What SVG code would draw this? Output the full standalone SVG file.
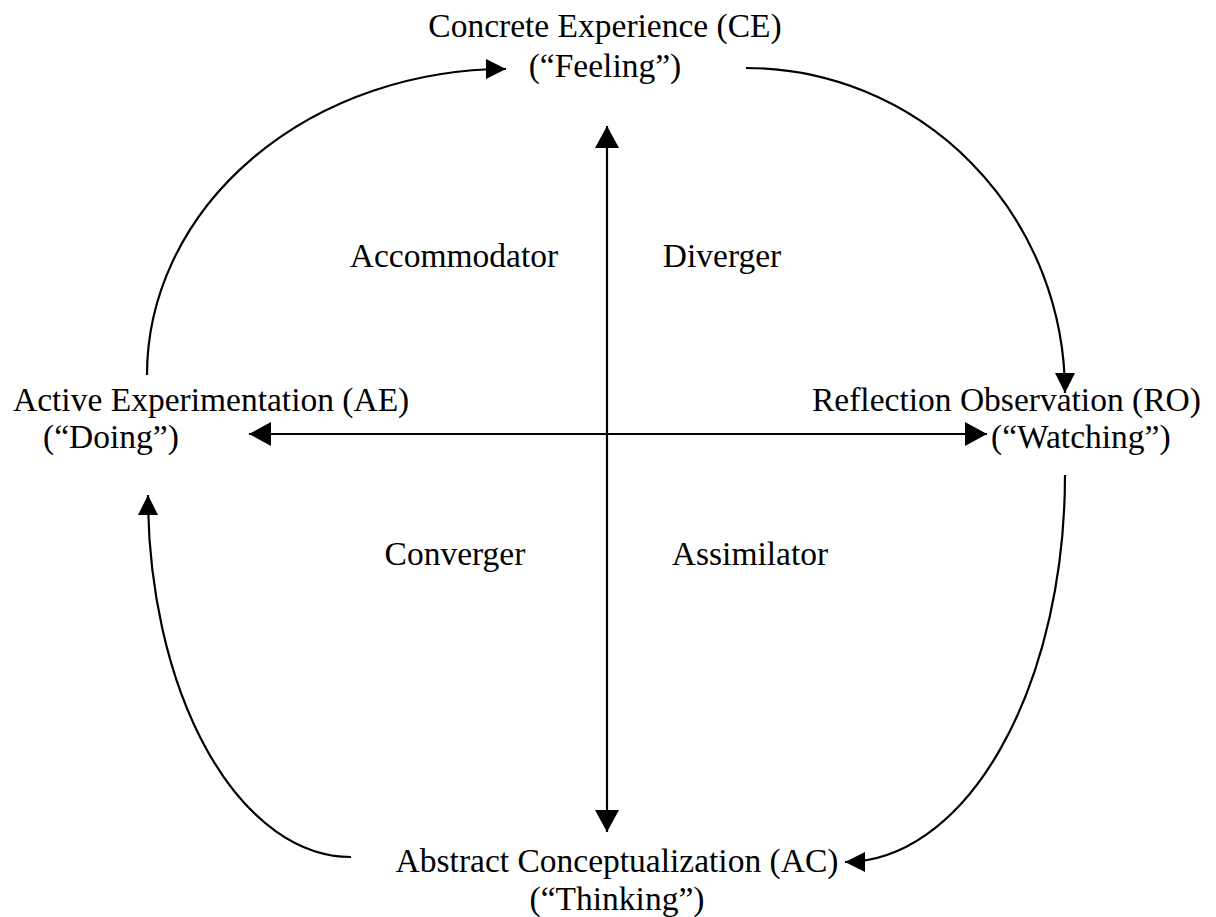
<svg xmlns="http://www.w3.org/2000/svg" width="1216" height="917" viewBox="0 0 1216 917">
<style>
text{font-family:"Liberation Serif","Times New Roman",serif;font-size:33.5px;fill:#000}
.c{text-anchor:middle}
.ln{fill:none;stroke:#000;stroke-width:2.2}
</style>
<defs>
<marker id="ah" viewBox="0 0 22 24" refX="22" refY="12" markerWidth="22" markerHeight="24" orient="auto-start-reverse" markerUnits="userSpaceOnUse">
<path d="M0,0 L22,12 L0,24 Z" fill="#000"/>
</marker>
<marker id="ahs" viewBox="0 0 20 20" refX="20" refY="10" markerWidth="20" markerHeight="20" orient="auto" markerUnits="userSpaceOnUse">
<path d="M0,0 L20,10 L0,20 Z" fill="#000"/>
</marker>
</defs>
<rect width="1216" height="917" fill="#fff"/>
<g id="connectors">
<path class="ln" d="M607,126 L607,832" marker-start="url(#ah)" marker-end="url(#ah)"/>
<path class="ln" d="M249,434 L987,434" marker-start="url(#ah)" marker-end="url(#ah)"/>
<path class="ln" d="M147,375 A359,306 0 0 1 506,69" marker-end="url(#ahs)"/>
<path class="ln" d="M746,68 A319,325 0 0 1 1065,393" marker-end="url(#ahs)"/>
<path class="ln" d="M1065,475 A220,387 0 0 1 845,862" marker-end="url(#ahs)"/>
<path class="ln" d="M351,857 A203,362 0 0 1 148,495" marker-end="url(#ahs)"/>
</g>
<g id="ce"><text class="c" x="605" y="37">Concrete Experience (CE)</text><text class="c" x="605" y="77">(“Feeling”)</text></g>
<g id="ae"><text x="13" y="411">Active Experimentation (AE)</text><text x="43" y="448">(“Doing”)</text></g>
<g id="ro"><text x="812" y="411">Reflection Observation (RO)</text><text x="991" y="448">(“Watching”)</text></g>
<g id="ac"><text class="c" x="617" y="872">Abstract Conceptualization (AC)</text><text class="c" x="617" y="910">(“Thinking”)</text></g>
<g id="accommodator"><text class="c" x="454" y="267">Accommodator</text></g>
<g id="diverger"><text class="c" x="722" y="267">Diverger</text></g>
<g id="converger"><text class="c" x="455" y="565">Converger</text></g>
<g id="assimilator"><text class="c" x="750" y="565">Assimilator</text></g>
</svg>
